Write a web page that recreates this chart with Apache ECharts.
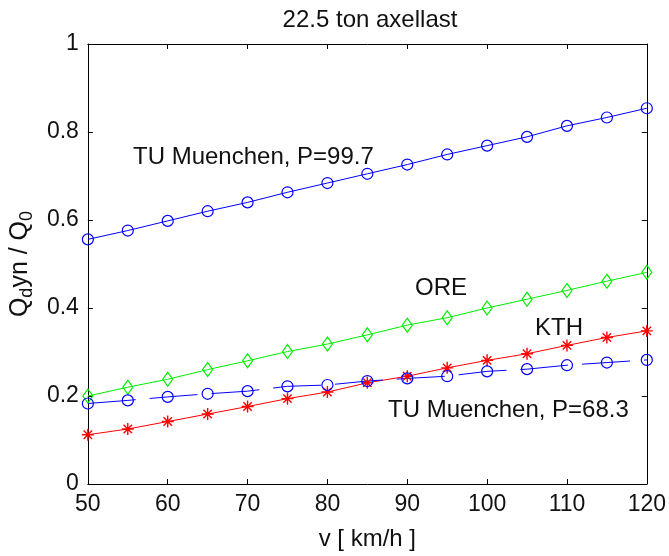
<!DOCTYPE html>
<html>
<head>
<meta charset="utf-8">
<script src="https://cdn.jsdelivr.net/npm/echarts@6/dist/echarts.min.js"></script>
<style>
  html, body { margin: 0; padding: 0; background: #fff; }
  #chart { width: 669px; height: 556px; }
</style>
</head>
<body>
<div id="chart"></div>
<script>
// speeds in km/h
const speeds = [50, 55, 60, 65, 70, 75, 80, 85, 90, 95, 100, 105, 110, 115, 120];

// Q_dyn / Q_0 per curve
const tuMuenchen997 = [0.556, 0.576, 0.598, 0.620, 0.640, 0.663, 0.684, 0.705, 0.726, 0.749, 0.769, 0.789, 0.814, 0.833, 0.854];
const ore = [0.200, 0.220, 0.238, 0.260, 0.280, 0.301, 0.318, 0.339, 0.361, 0.378, 0.400, 0.420, 0.440, 0.461, 0.481];
const kth = [0.112, 0.125, 0.142, 0.159, 0.176, 0.194, 0.209, 0.230, 0.245, 0.264, 0.281, 0.296, 0.315, 0.333, 0.348];
const tuMuenchen683 = [0.183, 0.190, 0.198, 0.205, 0.211, 0.222, 0.225, 0.234, 0.240, 0.245, 0.256, 0.261, 0.270, 0.276, 0.282];

const font = 'Liberation Sans, Arial, sans-serif';
const pts = arr => arr.map((v, i) => [speeds[i], v]);

const chart = echarts.init(document.getElementById('chart'));

const axisCommon = {
  axisLine: { show: true, onZero: false, lineStyle: { color: '#000', width: 1 } },
  axisTick: { show: true, inside: true, length: 5, lineStyle: { color: '#000' } },
  splitLine: { show: false }
};

chart.setOption({
  animation: false,
  title: {
    text: '22.5 ton axellast',
    left: 365,
    textAlign: 'center',
    top: 3,
    textStyle: { fontFamily: font, fontSize: 24, fontWeight: 'normal', color: '#111' }
  },
  grid: { left: 82, right: 22, top: 44, bottom: 67 },
  xAxis: [
    Object.assign({
      type: 'value', min: 50, max: 120, interval: 10,
      name: 'v [ km/h ]', nameLocation: 'middle', nameGap: 43,
      nameTextStyle: { fontFamily: font, fontSize: 24, color: '#111' },
      axisLabel: { fontFamily: font, fontSize: 23, color: '#111', margin: 9 }
    }, axisCommon),
    Object.assign({
      type: 'value', min: 50, max: 120, interval: 10, position: 'top',
      axisLabel: { show: false }
    }, axisCommon)
  ],
  yAxis: [
    Object.assign({
      type: 'value', min: 0, max: 1, interval: 0.2,
      name: '{a|Q}{s|d}{a|yn / Q}{s|0}', nameLocation: 'middle', nameGap: 48,
      nameTextStyle: {
        rich: {
          a: { fontFamily: font, fontSize: 25, color: '#111' },
          s: { fontFamily: font, fontSize: 18, color: '#111', padding: [13, 0, 0, 0] }
        }
      },
      axisLabel: { fontFamily: font, fontSize: 23, color: '#111', margin: 9 }
    }, axisCommon),
    Object.assign({
      type: 'value', min: 0, max: 1, interval: 0.2, position: 'right',
      axisLabel: { show: false }
    }, axisCommon)
  ],
  series: [
    {
      name: 'TU Muenchen, P=99.7', type: 'line', data: pts(tuMuenchen997),
      symbol: 'circle', symbolSize: 11,
      lineStyle: { color: '#0000ff', width: 1 },
      itemStyle: { color: 'rgba(0,0,0,0)', borderColor: '#0000ff', borderWidth: 1.2 }
    },
    {
      name: 'ORE', type: 'line', data: pts(ore),
      symbol: 'diamond', symbolSize: [10, 14],
      lineStyle: { color: '#00ee00', width: 1 },
      itemStyle: { color: 'rgba(0,0,0,0)', borderColor: '#00ee00', borderWidth: 1.2 }
    },
    {
      name: 'KTH', type: 'line', data: pts(kth),
      symbol: 'path://M5 0L5 10M0 5L10 5M1.5 1.5L8.5 8.5M1.5 8.5L8.5 1.5', symbolSize: 12,
      lineStyle: { color: '#ff0000', width: 1 },
      itemStyle: { color: 'rgba(0,0,0,0)', borderColor: '#ff0000', borderWidth: 1.4 }
    },
    {
      name: 'TU Muenchen, P=68.3', type: 'line', data: pts(tuMuenchen683),
      symbol: 'circle', symbolSize: 11,
      lineStyle: { color: '#0000ff', width: 1, type: [48, 14] },
      itemStyle: { color: 'rgba(0,0,0,0)', borderColor: '#0000ff', borderWidth: 1.2 }
    }
  ],
  graphic: [
    { type: 'text', x: 133, y: 157, style: { text: 'TU Muenchen, P=99.7', font: '24px ' + font, fill: '#111', verticalAlign: 'middle' } },
    { type: 'text', x: 415, y: 288, style: { text: 'ORE', font: '24px ' + font, fill: '#111', verticalAlign: 'middle' } },
    { type: 'text', x: 535, y: 328, style: { text: 'KTH', font: '24px ' + font, fill: '#111', verticalAlign: 'middle' } },
    { type: 'text', x: 388, y: 410, style: { text: 'TU Muenchen, P=68.3', font: '24px ' + font, fill: '#111', verticalAlign: 'middle' } }
  ]
});
</script>
</body>
</html>
